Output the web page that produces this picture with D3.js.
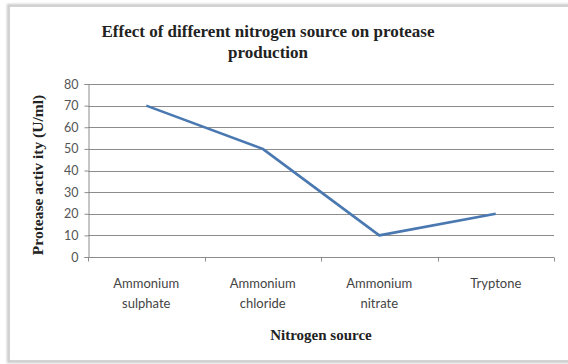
<!DOCTYPE html>
<html>
<head>
<meta charset="utf-8">
<script src="https://cdn.jsdelivr.net/npm/d3@7"></script>
<style>
  html, body { margin: 0; padding: 0; background: #fff; }
  svg { display: block; }
</style>
</head>
<body>
<script>
// Nitrogen source vs. protease activity
const categories = [["Ammonium", "sulphate"], ["Ammonium", "chloride"], ["Ammonium", "nitrate"], ["Tryptone"]];
const activity = [70, 50, 10, 20];
const yTicks = [0, 10, 20, 30, 40, 50, 60, 70, 80];
const titleLines = ["Effect of different nitrogen source on protease", "production"];
const yTitle = "Protease activ ity (U/ml)";
const xTitle = "Nitrogen source";

const W = 568, H = 364;
const plot = { left: 88, right: 554, top: 84, bottom: 257 };

const svg = d3.select("body").append("svg").attr("width", W).attr("height", H);

// chart frame with a soft edge
const defs = svg.append("defs");
const f = defs.append("filter").attr("id", "soft").attr("x", "-5%").attr("y", "-5%").attr("width", "110%").attr("height", "110%");
f.append("feGaussianBlur").attr("stdDeviation", 1.2);
svg.append("rect").attr("x", 8.5).attr("y", 5.5).attr("width", 600).attr("height", 356)
  .attr("fill", "none").attr("stroke", "#c8c8c8").attr("stroke-width", 3).attr("filter", "url(#soft)");
svg.append("rect").attr("x", 9.5).attr("y", 6.5).attr("width", 600).attr("height", 354)
  .attr("fill", "#fff").attr("stroke", "#d4d4d4").attr("stroke-width", 1);

const x = d3.scaleBand().domain(d3.range(categories.length)).range([plot.left, plot.right]);
const y = d3.scaleLinear().domain([0, 80]).range([plot.bottom, plot.top]);

const sans = "Lato, 'Liberation Sans', sans-serif";
const serif = "'Liberation Serif', 'DejaVu Serif', serif";

// horizontal gridlines
svg.append("g").selectAll("line").data(yTicks.filter(d => d > 0)).join("line")
  .attr("x1", plot.left).attr("x2", plot.right)
  .attr("y1", d => Math.round(y(d)) + 0.5).attr("y2", d => Math.round(y(d)) + 0.5)
  .attr("stroke", "#8c8c8c").attr("stroke-width", 1);

// y axis
const yAxis = svg.append("g").attr("transform", `translate(${plot.left + 0.5},0)`)
  .call(d3.axisLeft(y).tickValues(yTicks).tickSize(4).tickPadding(6));
yAxis.select(".domain").attr("stroke", "#8c8c8c");
yAxis.selectAll(".tick line").attr("stroke", "#8c8c8c");
yAxis.selectAll(".tick text").attr("fill", "#555").style("font-family", sans).style("font-size", "12.5px");

// x axis with ticks at category boundaries
const xAxisG = svg.append("g").attr("transform", `translate(0,${Math.round(plot.bottom) + 0.5})`);
xAxisG.append("line").attr("x1", plot.left).attr("x2", plot.right).attr("stroke", "#8c8c8c");
xAxisG.selectAll("line.tk").data(d3.range(categories.length + 1)).join("line").attr("class", "tk")
  .attr("x1", i => Math.round(plot.left + i * x.step()) + 0.5)
  .attr("x2", i => Math.round(plot.left + i * x.step()) + 0.5)
  .attr("y1", 0).attr("y2", 4).attr("stroke", "#8c8c8c");

// category labels
const lab = svg.append("g").selectAll("text").data(categories).join("text")
  .attr("text-anchor", "middle").attr("fill", "#444")
  .style("font-family", sans).style("font-size", "13px");
lab.each(function (lines, i) {
  const t = d3.select(this);
  lines.forEach((s, k) => t.append("tspan").attr("x", x(i) + x.bandwidth() / 2).attr("y", 288 + k * 20).text(s));
});

// data line
const line = d3.line().x((d, i) => x(i) + x.bandwidth() / 2).y(d => y(d));
svg.append("path").datum(activity).attr("d", line)
  .attr("fill", "none").attr("stroke", "#4a78b0").attr("stroke-width", 2.6).attr("stroke-linejoin", "round");

// titles
svg.append("g").selectAll("text").data(titleLines).join("text")
  .attr("x", 268).attr("y", (d, i) => 37 + i * 21).attr("text-anchor", "middle")
  .attr("fill", "#222").style("font-family", serif).style("font-weight", "bold").style("font-size", "17px")
  .text(d => d);

svg.append("text").attr("transform", "translate(43,175) rotate(-90)")
  .attr("text-anchor", "middle").attr("fill", "#222")
  .style("font-family", serif).style("font-weight", "bold").style("font-size", "15.5px").text(yTitle);

svg.append("text").attr("x", 321).attr("y", 340).attr("text-anchor", "middle").attr("fill", "#222")
  .style("font-family", serif).style("font-weight", "bold").style("font-size", "15px").text(xTitle);
</script>
</body>
</html>
